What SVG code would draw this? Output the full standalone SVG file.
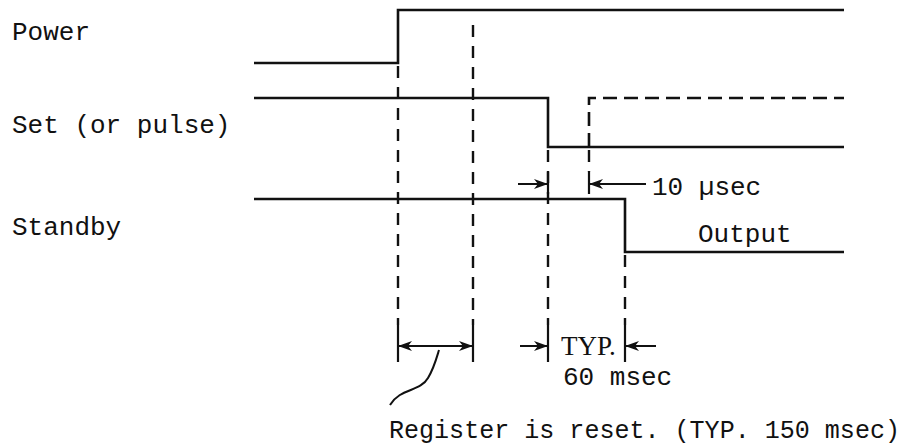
<svg xmlns="http://www.w3.org/2000/svg" width="920" height="446" viewBox="0 0 920 446">
<style>
.sig{fill:none;stroke:#111;stroke-width:2.6;stroke-linejoin:miter}
.dash{fill:none;stroke:#111;stroke-width:2.4;stroke-dasharray:12 9}
.hdash{fill:none;stroke:#111;stroke-width:2.6;stroke-dasharray:14 7}
.tick{fill:none;stroke:#111;stroke-width:2.2}
.arr{fill:none;stroke:#111;stroke-width:2}
.t{font-family:"Liberation Mono","Courier New",monospace;font-size:26px;fill:#111}
.ts{font-family:"Liberation Serif","Times New Roman",serif;font-size:27px;fill:#111}
</style>
<defs>
<marker id="ah" viewBox="0 0 14 10" refX="13" refY="5" markerWidth="14" markerHeight="10" markerUnits="userSpaceOnUse" orient="auto">
<path d="M0,0 L14,5 L0,10 L4,5 Z" fill="#111"/>
</marker>
</defs>
<rect width="920" height="446" fill="#fff"/>
<g id="labels">
<text class="t" x="12" y="40">Power</text>
<text class="t" x="12" y="133">Set (or pulse)</text>
<text class="t" x="12" y="235">Standby</text>
</g>
<g id="power">
<path class="sig" d="M254,63 H398 V10 H844"/>
</g>
<g id="set">
<path class="sig" d="M254,98 H548 V147 H844"/>
<path class="hdash" d="M589,147 V98 H844"/>
</g>
<g id="standby">
<path class="sig" d="M254,199 H625 V252 H844"/>
<text class="t" x="698" y="242">Output</text>
</g>
<g id="connectors">
<path class="dash" d="M398,66 V325"/>
<path class="dash" d="M473,25 V325"/>
<path class="dash" d="M548,150 V325"/>
<path class="dash" d="M589,150 V172"/>
<path class="dash" d="M625,255 V325"/>
<path class="tick" d="M548,172 V194 M589,172 V194"/>
<path class="tick" d="M398,325 V362 M473,325 V362 M548,325 V362 M625,325 V362"/>
<path class="arr" d="M518,184 H547" marker-end="url(#ah)"/>
<path class="arr" d="M646,184 H590" marker-end="url(#ah)"/>
<path class="arr" d="M436,346 H399" marker-end="url(#ah)"/>
<path class="arr" d="M436,346 H472" marker-end="url(#ah)"/>
<path class="arr" d="M520,346 H547" marker-end="url(#ah)"/>
<path class="arr" d="M656,346 H626" marker-end="url(#ah)"/>
<path class="arr" d="M390,405 C400,388 420,392 428,378 C434,368 436,360 439,350"/>
</g>
<g id="annotations">
<text class="t" x="652" y="195">10 µsec</text>
<text class="ts" x="561" y="355">TYP.</text>
<text class="t" x="563" y="385">60 msec</text>
<text class="t" x="389" y="438" textLength="511" lengthAdjust="spacingAndGlyphs">Register is reset. (TYP. 150 msec)</text>
</g>
</svg>
